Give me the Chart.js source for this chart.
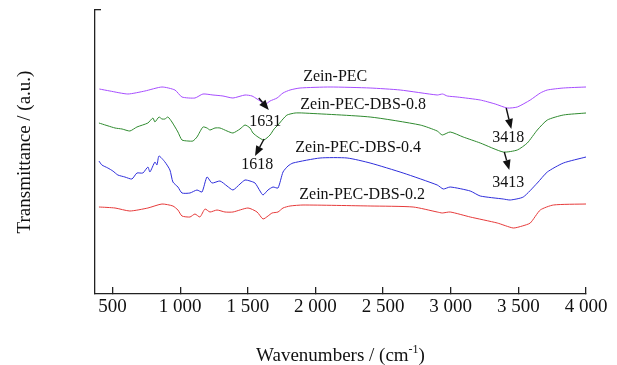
<!DOCTYPE html>
<html>
<head>
<meta charset="utf-8">
<script src="https://cdn.jsdelivr.net/npm/chart.js@4.4.1/dist/chart.umd.min.js"></script>
<style>
  html, body { margin: 0; padding: 0; background: #fff; }
  #wrap { width: 617px; height: 365px; }
</style>
</head>
<body>
<div id="wrap"><canvas id="ftir" width="617" height="365"></canvas></div>
<script>
// FTIR spectra. Transmittance is in arbitrary units,
// each curve already carries its vertical offset.
const xTicks = [500, 1000, 1500, 2000, 2500, 3000, 3500, 4000];
const seriesNames = ["Zein-PEC", "Zein-PEC-DBS-0.8", "Zein-PEC-DBS-0.4", "Zein-PEC-DBS-0.2"];

const pecWave = [402, 480, 613, 739, 865, 961, 1013, 1109, 1168, 1242, 1316, 1390, 1479, 1531, 1568, 1631, 1664, 1716, 1760, 1812, 1886, 2108, 2404, 2626, 2900, 2940, 2974, 3048, 3218, 3329, 3418, 3492, 3588, 3662, 3714, 3833, 4000];
const pecT    = [205, 203, 200, 203, 207, 204, 197, 196, 200, 199, 198, 196, 199, 198, 195, 190, 193, 196, 201, 204, 206, 207, 206, 204, 199, 200, 198, 197, 194, 190, 186, 187, 194, 201, 204, 206, 207];

const dbs08Wave = [399, 518, 570, 628, 680, 761, 798, 813, 843, 865, 887, 909, 939, 983, 1013, 1057, 1094, 1124, 1168, 1198, 1220, 1257, 1294, 1346, 1390, 1442, 1479, 1516, 1538, 1575, 1618, 1664, 1694, 1723, 1760, 1790, 1849, 1908, 2404, 2774, 2900, 2937, 2996, 3092, 3218, 3388, 3492, 3566, 3640, 3714, 3833, 4000];
const dbs08T    = [171, 166, 165, 163, 167, 171, 176, 172, 177, 175, 175, 177, 172, 162, 154, 153, 153, 157, 167, 166, 164, 166, 166, 163, 161, 165, 169, 166, 161, 157, 154, 159, 165, 169, 175, 179, 181, 181, 177, 169, 163, 159, 162, 157, 151, 142, 144, 151, 164, 174, 179, 181];

const dbs04Wave = [399, 421, 465, 502, 539, 591, 643, 680, 724, 761, 776, 813, 828, 843, 887, 924, 946, 983, 1013, 1072, 1124, 1161, 1198, 1235, 1294, 1346, 1390, 1442, 1479, 1516, 1553, 1590, 1612, 1649, 1686, 1723, 1760, 1797, 1834, 2034, 2234, 2404, 2648, 2900, 2945, 2996, 3144, 3218, 3388, 3440, 3536, 3640, 3714, 3833, 4000];
const dbs04T    = [133, 129, 126, 123, 119, 117, 115, 121, 121, 127, 122, 132, 129, 138, 132, 124, 112, 107, 101, 101, 104, 102, 117, 111, 113, 108, 104, 110, 114, 113, 111, 103, 99, 104, 107, 106, 122, 128, 131, 136, 136, 131, 121, 109, 105, 107, 103, 98, 95, 94, 97, 111, 122, 131, 137];

const dbs02Wave = [399, 518, 628, 761, 865, 946, 983, 1013, 1072, 1109, 1146, 1183, 1220, 1272, 1331, 1390, 1501, 1568, 1612, 1649, 1679, 1723, 1760, 1812, 1908, 2404, 2722, 2900, 2937, 2996, 3144, 3344, 3462, 3529, 3588, 3662, 3759, 4000];
const dbs02T    = [87, 86, 83, 86, 90, 88, 84, 78, 77, 80, 77, 85, 82, 84, 82, 82, 86, 82, 75, 78, 81, 82, 86, 88, 89, 88, 87, 82, 81, 82, 77, 71, 66, 68, 71, 84, 89, 90];

// where each curve name sits (wavenumber, transmittance)
const nameWave = [2146, 2353, 2316, 2345];
const nameT    = [217, 189, 146, 99];

// marked bands: label, label position, arrow start, arrow tip
const peakLabels = ["1631", "1618", "3418", "3413"];
const peakTextAt = [[1628, 172], [1569, 129], [3426, 156], [3426, 111]];
const arrowFrom  = [[1581, 196], [1620, 155], [3410, 186], [3396, 142]];
const arrowTo    = [[1655, 184], [1553, 138], [3448, 165], [3433, 124]];

const colors = ["#a64dff", "#2f8a2f", "#2e2edb", "#e63a3a"];
const FONT = '"Liberation Serif", "Times New Roman", serif';

const pairs = (xs, ys) => xs.map((v, i) => ({ x: v, y: ys[i] }));
const spectra = [
  pairs(pecWave, pecT),
  pairs(dbs08Wave, dbs08T),
  pairs(dbs04Wave, dbs04T),
  pairs(dbs02Wave, dbs02T)
];

function drawArrow(ctx, x1, y1, x2, y2) {
  const ang = Math.atan2(y2 - y1, x2 - x1);
  const head = 10, half = 4;
  const bx = x2 - head * Math.cos(ang), by = y2 - head * Math.sin(ang);
  ctx.beginPath();
  ctx.moveTo(x1, y1);
  ctx.lineTo(bx, by);
  ctx.lineWidth = 1.4;
  ctx.stroke();
  ctx.beginPath();
  ctx.moveTo(x2, y2);
  ctx.lineTo(bx + half * Math.sin(ang), by - half * Math.cos(ang));
  ctx.lineTo(bx - half * Math.sin(ang), by + half * Math.cos(ang));
  ctx.closePath();
  ctx.fill();
}

const overlay = {
  id: "overlay",
  afterDatasetsDraw(chart) {
    const { ctx, chartArea, scales: { x, y } } = chart;
    ctx.save();
    ctx.fillStyle = "#111";
    ctx.strokeStyle = "#111";
    ctx.textAlign = "center";
    ctx.textBaseline = "middle";

    ctx.font = `16px ${FONT}`;
    seriesNames.forEach((name, i) => {
      ctx.fillText(name, x.getPixelForValue(nameWave[i]), y.getPixelForValue(nameT[i]));
    });

    peakLabels.forEach((lbl, i) => {
      ctx.font = `16px ${FONT}`;
      ctx.fillText(lbl, x.getPixelForValue(peakTextAt[i][0]), y.getPixelForValue(peakTextAt[i][1]));
      drawArrow(ctx,
        x.getPixelForValue(arrowFrom[i][0]), y.getPixelForValue(arrowFrom[i][1]),
        x.getPixelForValue(arrowTo[i][0]), y.getPixelForValue(arrowTo[i][1]));
    });

    // y title
    ctx.save();
    ctx.translate(25, (chartArea.top + chartArea.bottom) / 2);
    ctx.rotate(-Math.PI / 2);
    ctx.font = `19px ${FONT}`;
    ctx.fillText("Transmittance / (a.u.)", 0, 0);
    ctx.restore();

    // x title with superscript
    const main = "Wavenumbers / (cm", sup = "-1", tail = ")";
    ctx.textAlign = "left";
    ctx.textBaseline = "alphabetic";
    ctx.font = `19px ${FONT}`;
    const w1 = ctx.measureText(main).width, w3 = ctx.measureText(tail).width;
    ctx.font = `12px ${FONT}`;
    const w2 = ctx.measureText(sup).width;
    let tx = (chartArea.left + chartArea.right) / 2 - (w1 + w2 + w3) / 2;
    const base = 361;
    ctx.font = `19px ${FONT}`;
    ctx.fillText(main, tx, base);
    ctx.font = `12px ${FONT}`;
    ctx.fillText(sup, tx + w1, base - 8);
    ctx.font = `19px ${FONT}`;
    ctx.fillText(tail, tx + w1 + w2, base);
    ctx.restore();
  }
};

new Chart(document.getElementById("ftir"), {
  type: "scatter",
  data: {
    datasets: spectra.map((pts, i) => ({
      label: seriesNames[i],
      data: pts,
      showLine: true,
      borderColor: colors[i],
      borderWidth: 1,
      pointRadius: 0,
      tension: 0.2
    }))
  },
  options: {
    responsive: false,
    animation: false,
    devicePixelRatio: 1,
    layout: { padding: { top: 10, right: 31, bottom: 0, left: 0 } },
    plugins: { legend: { display: false }, tooltip: { enabled: false } },
    scales: {
      x: {
        type: "linear",
        min: 370,
        max: 4000,
        afterBuildTicks: (scale) => { scale.ticks = xTicks.map(v => ({ value: v })); },
        afterFit: (scale) => { scale.height = 71; },
        border: { display: true, color: "#222", width: 1.3 },
        grid: { drawOnChartArea: false, drawTicks: true, tickLength: -7, color: "#222", lineWidth: 1.3 },
        ticks: {
          padding: 9,
          color: "#111",
          font: { family: FONT, size: 19 },
          maxRotation: 0,
          callback: (v) => String(v).replace(/\B(?=(\d{3})+(?!\d))/g, " ")
        }
      },
      y: {
        type: "linear",
        min: 0,
        max: 284,
        afterBuildTicks: (scale) => { scale.ticks = [{ value: 284 }]; },
        afterFit: (scale) => { scale.width = 95; },
        border: { display: true, color: "#222", width: 1.3 },
        grid: { drawOnChartArea: false, drawTicks: true, tickLength: -6, color: "#222", lineWidth: 1.3 },
        ticks: { display: false }
      }
    }
  },
  plugins: [overlay]
});
</script>
</body>
</html>
